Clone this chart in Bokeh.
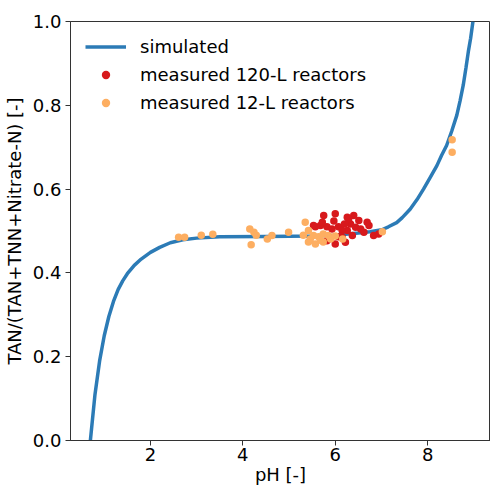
from bokeh.plotting import figure
from bokeh.models import FixedTicker, PrintfTickFormatter, Range1d, Legend, LegendItem
from bokeh.embed import file_html
from bokeh.resources import INLINE

# simulated curve
sim_ph = [0.70, 0.80, 0.90, 1.00, 1.10, 1.20, 1.30, 1.40, 1.50, 1.65, 1.80, 2.00, 2.20,
          2.43, 2.70, 3.00, 3.50, 4.50, 5.50, 6.00, 6.50, 6.75, 7.01, 7.15, 7.33, 7.45,
          7.62, 7.77, 7.91, 8.05, 8.20, 8.30, 8.41, 8.52, 8.63, 8.70, 8.77, 8.83, 8.88,
          8.93, 8.98]
sim_val = [0.000, 0.110, 0.190, 0.250, 0.296, 0.332, 0.360, 0.381, 0.398, 0.418, 0.433,
           0.449, 0.461, 0.472, 0.479, 0.483, 0.486, 0.487, 0.488, 0.490, 0.495, 0.498,
           0.503, 0.510, 0.520, 0.532, 0.552, 0.575, 0.600, 0.627, 0.656, 0.680, 0.704,
           0.738, 0.776, 0.810, 0.848, 0.890, 0.928, 0.960, 1.000]

# measured 120-L reactors
r120_ph = [5.75, 6.00, 5.68, 5.57, 5.82, 5.93, 6.07, 5.82, 6.00, 6.07, 6.26, 6.40, 6.51,
           6.33, 6.44, 6.55, 6.26, 6.62, 6.37, 6.69, 6.83, 6.94, 6.15, 6.22, 6.29, 6.73,
           6.15, 5.97, 6.20, 5.53, 5.72]
r120_val = [0.537, 0.541, 0.513, 0.510, 0.510, 0.505, 0.510, 0.477, 0.469, 0.486, 0.533,
            0.537, 0.525, 0.517, 0.509, 0.505, 0.501, 0.497, 0.489, 0.521, 0.489, 0.493,
            0.485, 0.473, 0.529, 0.513, 0.501, 0.524, 0.517, 0.513, 0.521]

# measured 12-L reactors
r12_ph = [2.61, 2.74, 3.10, 3.35, 4.15, 4.24, 4.29, 4.18, 4.53, 4.63, 4.99, 5.35, 5.42,
          5.53, 5.64, 5.74, 5.85, 5.42, 5.57, 5.74, 5.90, 5.31, 5.46, 5.68, 6.00, 6.16,
          7.02, 8.53, 8.53]
r12_val = [0.485, 0.485, 0.490, 0.492, 0.505, 0.497, 0.490, 0.467, 0.481, 0.489, 0.497,
           0.521, 0.501, 0.489, 0.486, 0.493, 0.489, 0.474, 0.469, 0.474, 0.481, 0.490,
           0.481, 0.478, 0.488, 0.481, 0.498, 0.718, 0.688]

x_ticks = [2, 4, 6, 8]
y_ticks = [0.0, 0.2, 0.4, 0.6, 0.8, 1.0]

FONT = "DejaVu Sans"
FS = "18px"

p = figure(frame_width=420, frame_height=419, output_backend="svg", toolbar_location=None,
           x_range=Range1d(0.27, 9.36), y_range=Range1d(0.0, 1.0),
           min_border_left=62, min_border_top=21, min_border_right=0, min_border_bottom=30)
p.background_fill_color = "white"
p.outline_line_color = "#333333"
p.outline_line_width = 1
p.grid.visible = False

l1 = p.line(sim_ph, sim_val, line_color="#2c7bb6", line_width=3.5)
s1 = p.scatter(r120_ph, r120_val, size=7.5, fill_color="#d7191c", line_color=None)
s2 = p.scatter(r12_ph, r12_val, size=7.5, fill_color="#fdae61", line_color=None)

for ax in (p.xaxis[0], p.yaxis[0]):
    ax.axis_line_color = "#333333"
    ax.major_tick_line_color = "#333333"
    ax.major_tick_out = 5
    ax.major_tick_in = 0
    ax.minor_tick_line_color = None
    ax.major_label_text_font = FONT
    ax.major_label_text_font_size = FS
    ax.major_label_text_color = "black"
    ax.axis_label_text_font = FONT
    ax.axis_label_text_font_size = FS
    ax.axis_label_text_font_style = "normal"
    ax.axis_label_text_color = "black"

p.xaxis.ticker = FixedTicker(ticks=x_ticks)
p.yaxis.ticker = FixedTicker(ticks=y_ticks)
p.xaxis.formatter = PrintfTickFormatter(format="%d")
p.yaxis.formatter = PrintfTickFormatter(format="%.1f")
p.xaxis.axis_label = "pH [-]"
p.yaxis.axis_label = "TAN/(TAN+TNN+Nitrate-N) [-]"
p.xaxis.major_label_standoff = 2
p.yaxis.major_label_standoff = 4
p.xaxis.axis_label_standoff = 0
p.yaxis.axis_label_standoff = 5

legend = Legend(items=[LegendItem(label="simulated", renderers=[l1]),
                       LegendItem(label="measured 120-L reactors", renderers=[s1]),
                       LegendItem(label="measured 12-L reactors", renderers=[s2])],
                location="top_left")
legend.border_line_color = None
legend.background_fill_alpha = 0
legend.margin = 15
legend.padding = 11
legend.glyph_width = 41
legend.glyph_height = 21
legend.label_height = 21
legend.spacing = 7
legend.label_standoff = 14
legend.label_text_font = FONT
legend.label_text_font_size = FS
legend.label_text_color = "black"
p.add_layout(legend)

open("out.html", "w").write(file_html(p, INLINE))
